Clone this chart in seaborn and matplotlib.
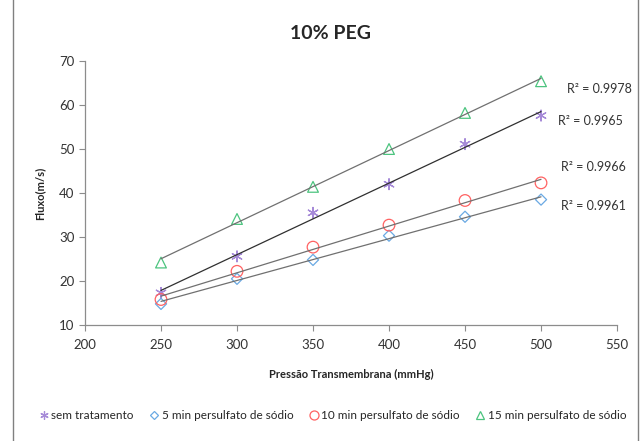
import numpy as np
import pandas as pd
import seaborn as sns
import matplotlib.pyplot as plt
from matplotlib.lines import Line2D
from matplotlib.patches import Rectangle

pressao = [250, 300, 350, 400, 450, 500]
sem_tratamento = [17.3, 25.6, 35.5, 42.0, 51.1, 57.6]
min5 = [14.8, 20.5, 24.8, 30.3, 34.6, 38.5]
min10 = [15.8, 22.2, 27.7, 32.7, 38.3, 42.3]
min15 = [24.2, 34.1, 41.4, 50.0, 58.2, 65.4]

series_names = ['sem tratamento', '5 min persulfato de sódio',
                '10 min persulfato de sódio', '15 min persulfato de sódio']
r2_labels = ['0.9965', '0.9961', '0.9966', '0.9978']

sns.set_style('white')
plt.rcParams['font.family'] = ['Lato', 'DejaVu Sans']

df = pd.DataFrame({'Pressao': pressao * 4,
                   'Fluxo': sem_tratamento + min5 + min10 + min15,
                   'Serie': np.repeat(series_names, len(pressao))})

colors = ['#a68ad8', '#6aa9e3', '#ff6262', '#4cc47f']
markers = [(6, 2, 0), 'D', 'o', '^']
sizes = [60, 32, 70, 60]
line_colors = ['#303030', '#707070', '#707070', '#707070']
r2_pos = [(511, 56.4), (513, 37.0), (513, 45.8), (517, 63.7)]

fig = plt.figure(figsize=(6.41, 4.41), dpi=100)
ax = fig.add_axes([0.1326, 0.263, 0.83, 0.5987])

for i, name in enumerate(series_names):
    sub = df[df['Serie'] == name]
    sns.regplot(data=sub, x='Pressao', y='Fluxo', scatter=False, ci=None,
                color=line_colors[i], line_kws={'lw': 0.9}, ax=ax)
for i, name in enumerate(series_names):
    sub = df[df['Serie'] == name]
    sns.scatterplot(data=sub, x='Pressao', y='Fluxo', marker=markers[i],
                    s=sizes[i], color=colors[i], ax=ax, legend=False)
    pts = ax.collections[-1]
    pts.set_facecolor('none')
    pts.set_edgecolor(colors[i])
    pts.set_linewidth(0.9)
    ax.text(r2_pos[i][0], r2_pos[i][1], 'R² = ' + r2_labels[i],
            fontsize=9, color='#333333', va='center')

ax.set_xlim(200, 550)
ax.set_ylim(10, 70)
ax.set_xticks(range(200, 551, 50))
ax.set_yticks(range(10, 71, 10))
for side in ['top', 'right']:
    ax.spines[side].set_visible(False)
for side in ['left', 'bottom']:
    ax.spines[side].set_color('#8c8c8c')
    ax.spines[side].set_linewidth(0.9)
ax.tick_params(direction='out', length=4, width=0.8, color='#8c8c8c',
               labelsize=9.5, labelcolor='#333333', left=True, bottom=True)
ax.tick_params(axis='x', pad=6)

ax.set_xlabel('Pressão Transmembrana (mmHg)', fontsize=8, fontweight='bold',
              labelpad=13)
ax.set_ylabel('Fluxo(m/s)', fontsize=8, fontweight='bold', labelpad=10)
fig.text(0.515, 0.925, '10% PEG', fontsize=14, fontweight='bold',
         ha='center', va='center')

handles = [Line2D([], [], linestyle='none', marker=markers[i],
                  markersize=[6, 4.5, 6.5, 6][i], markerfacecolor='none',
                  markeredgecolor=colors[i], markeredgewidth=0.9)
           for i in range(4)]
fig.legend(handles, series_names, loc='center', bbox_to_anchor=(0.518, 0.058),
           ncol=4, frameon=False, fontsize=8.5, handletextpad=0.15,
           columnspacing=1.2, handlelength=1.0)

fig.patches.append(Rectangle((0.02, -0.01), 0.975, 1.02, transform=fig.transFigure,
                             fill=False, edgecolor='#808080', lw=1.0))

fig.savefig('out.png', dpi=100)
